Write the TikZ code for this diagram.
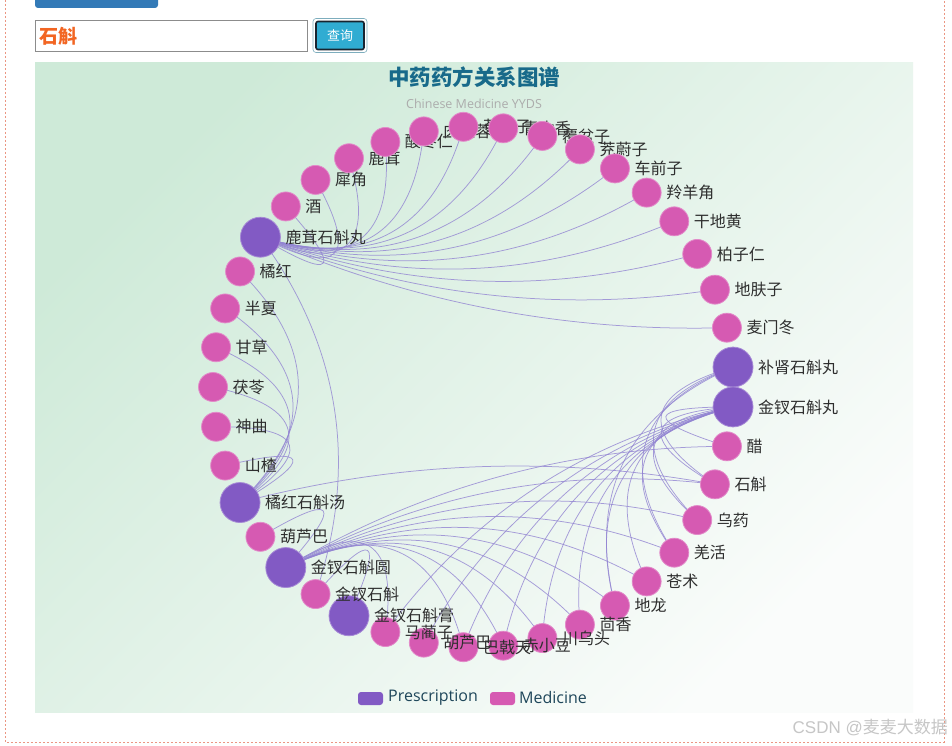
\documentclass[tikz,border=0pt]{standalone}
\usepackage{fontspec}
\setmainfont{Noto Sans CJK SC}
\newfontfamily\latinfont{Open Sans}
\newfontfamily\wmfont{Liberation Sans}
\usetikzlibrary{calc}
\pgfdeclarelayer{bglayer}
\pgfdeclarelayer{edgelayer}
\pgfsetlayers{bglayer,edgelayer,main}
\definecolor{presc}{RGB}{130,90,196}
\definecolor{medic}{RGB}{214,90,178}
\definecolor{lnkc}{RGB}{146,132,210}
\definecolor{titlec}{RGB}{24,106,138}
\definecolor{bgA}{RGB}{206,234,216}
\definecolor{bgB}{RGB}{250,252,251}
\definecolor{framec}{RGB}{235,150,130}
\definecolor{legc}{RGB}{30,70,90}
\definecolor{btnfill}{RGB}{48,172,210}
\definecolor{btndark}{RGB}{24,36,48}
\definecolor{topbtn}{RGB}{51,122,183}
\definecolor{qorange}{RGB}{242,101,34}
\tikzset{
  presnode/.style={circle, fill=presc, draw=presc!70!white, line width=0.8pt, minimum size=40pt, inner sep=0pt},
  mednode/.style={circle, fill=medic, draw=medic!70!white, line width=0.8pt, minimum size=29pt, inner sep=0pt},
  lnk/.style={draw=lnkc, line width=0.75pt, opacity=0.8},
  lbl/.style={anchor=west, font=\fontsize{16}{16}\selectfont, text=black!82, inner sep=0pt},
  legbox/.style={rounded corners=3pt, minimum width=25pt, minimum height=13pt, inner sep=0pt},
  legtext/.style={anchor=west, text=legc, font=\latinfont\fontsize{16}{16}\selectfont, inner sep=0pt},
}
\begin{document}
\begin{tikzpicture}[x=1pt,y=-1pt]
\useasboundingbox (0,0) rectangle (952,746);
\begin{pgfonlayer}{bglayer}
\fill[white] (0,0) rectangle (952,746);
\shade[top color=bgA, bottom color=bgB, shading angle=45] (35,63) rectangle (913,712);
\draw[framec, line width=0.6pt, dash pattern=on 2pt off 2pt] (5,0) -- (5,742) -- (944,742) -- (944,0);
\end{pgfonlayer}

% top widgets
\fill[topbtn, rounded corners=3pt] (35,-10) rectangle (158,8);
\node[draw=gray!90, line width=0.6pt, fill=white, minimum width=272pt, minimum height=31pt, inner sep=0pt, anchor=north west] (search) at (35,20) {};
\node[anchor=west, text=qorange, font=\bfseries\fontsize{19}{19}\selectfont, inner sep=0pt] (query) at (39,36) {石斛};
\node[draw=btndark!40!btnfill!60!white, line width=0.6pt, rounded corners=3pt, minimum width=54pt, minimum height=34pt, inner sep=0pt] (btnring) at (340,35.5) {};
\node[draw=btndark, line width=1.6pt, fill=btnfill, rounded corners=2pt, minimum width=48pt, minimum height=28pt, inner sep=0pt, text=white, font=\fontsize{13}{13}\selectfont] (btn) at (340,35.5) {查询};

% title
\node[font=\bfseries\fontsize{21.5}{22}\selectfont, text=titlec] (title) at (474,77) {中药药方关系图谱};
\node[font=\latinfont\fontsize{12.5}{13}\selectfont, text=gray!65] (subtitle) at (474,104) {Chinese Medicine YYDS};

\coordinate (C) at (473.4,387);

% nodes with their labels, in drawing order
\foreach [count=\k from 0] \nm/\tp in {茯苓/mednode,甘草/mednode,半夏/mednode,橘红/mednode,鹿茸石斛丸/presnode,酒/mednode,犀角/mednode,鹿茸/mednode,酸枣仁/mednode,肉苁蓉/mednode,菟丝子/mednode,青木香/mednode,覆盆子/mednode,茺蔚子/mednode,车前子/mednode,羚羊角/mednode,干地黄/mednode,柏子仁/mednode,地肤子/mednode,麦门冬/mednode,补肾石斛丸/presnode,金钗石斛丸/presnode,醋/mednode,石斛/mednode,乌药/mednode,羌活/mednode,苍术/mednode,地龙/mednode,茴香/mednode,川乌头/mednode,赤小豆/mednode,巴戟天/mednode,胡芦巴/mednode,马蔺子/mednode,金钗石斛膏/presnode,金钗石斛/mednode,金钗石斛圆/presnode,葫芦巴/mednode,橘红石斛汤/presnode,山楂/mednode,神曲/mednode}{
  \pgfmathsetmacro\ang{180-\k*360/41}
  \node[\tp] (n\k) at ({473.4+260.4*cos(\ang)},{387-260.4*sin(\ang)}) {};
  \node[lbl] (t\k) at ([xshift=4.5pt]n\k.east) {\nm};
}

% connectors
\begin{pgfonlayer}{edgelayer}
\foreach \a/\b in {4/5,4/6,4/7,4/8,4/9,4/10,4/11,4/12,4/13,4/14,4/15,4/16,4/17,4/18,4/19,4/35,
  38/3,38/2,38/1,38/0,38/40,38/39,38/23,
  21/22,21/23,21/24,21/25,21/26,21/27,21/28,21/29,21/30,21/31,21/32,21/33,
  36/22,36/23,36/24,36/25,36/26,36/27,36/28,36/29,36/30,36/31,36/33,36/37,
  34/35,20/23,20/24,20/25,20/27}{
  \coordinate (mm) at ($(n\a.center)!0.5!(n\b.center)$);
  \coordinate (qq) at ($(mm)!0.5!(C)$);
  \draw[lnk] (n\a.center) .. controls ($(n\a.center)!0.6667!(qq)$) and ($(n\b.center)!0.6667!(qq)$) .. (n\b.center);
}
\end{pgfonlayer}

% legend
\node[legbox, fill=presc] (legP) at (370.5,698.5) {};
\node[legtext] (legPt) at (388,697.5) {Prescription};
\node[legbox, fill=medic] (legM) at (502.5,698.5) {};
\node[legtext] (legMt) at (519,697.5) {Medicine};

% watermark
\node[anchor=east, text=gray!45, font=\fontsize{17}{17}\selectfont, inner sep=0pt] (wm) at (948,728) {{\wmfont CSDN @}麦麦大数据};
\end{tikzpicture}
\end{document}
